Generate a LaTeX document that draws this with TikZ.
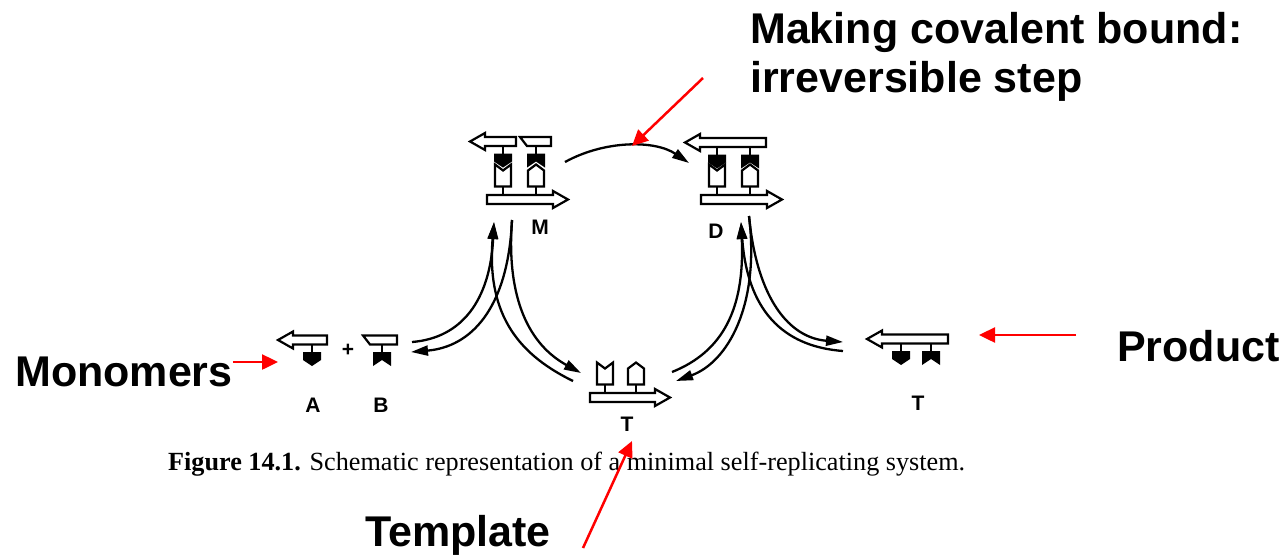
\documentclass[tikz,border=0pt]{standalone}
\usepackage{fontspec}
\setmainfont{Liberation Sans}
\newfontfamily\capfont{Liberation Serif}
\usetikzlibrary{arrows.meta}

\tikzset{
  strand/.style={draw=black,line width=2.2pt,fill=white},
  flow/.style={line width=2.3pt,-{Triangle[length=17pt,width=10pt]}},
  plain/.style={line width=2.2pt},
  redarrow/.style={red,line width=2.5pt,-{Triangle[length=16pt,width=15pt]}},
  lab/.style={font=\fontsize{21}{23}\selectfont\bfseries,inner sep=0pt},
  note/.style={font=\fontsize{43}{50}\selectfont\bfseries,anchor=base west,inner sep=0pt},
  % hollow arrow pointing left, tip at origin
  pics/backL/.style={code={
    \path[strand] (0,0) -- (15,-8.5) -- (15,-4.5) -- (#1,-4.5) -- (#1,4.5) -- (15,4.5) -- (15,8.5) -- cycle;}},
  % hollow arrow pointing right, tail at origin
  pics/backR/.style={code={
    \path[strand] (0,-4.5) -- ({#1-15},-4.5) -- ({#1-15},-8.5) -- (#1,0) -- ({#1-15},8.5) -- ({#1-15},4.5) -- (0,4.5) -- cycle;}},
  % slanted end piece of B
  pics/capB/.style={code={
    \path[strand] (0,-4.5) -- (#1,-4.5) -- (#1,4.5) -- (7,4.5) -- cycle;}},
  % black recognition sites hanging from a strand
  pics/knobA/.style={code={
    \draw[plain] (0,4) -- (0,12);
    \fill (-9,12) -- (9,12) -- (9,20) -- (0,26) -- (-9,20) -- cycle;}},
  pics/knobB/.style={code={
    \draw[plain] (0,4) -- (0,12);
    \fill (-9,12) -- (9,12) -- (9,26) -- (0,20) -- (-9,26) -- cycle;}},
  % white complementary sites standing on the template strand
  pics/sockA/.style={code={
    \draw[plain] (0,-4) -- (0,-13);
    \path[strand] (-8,-13) -- (8,-13) -- (8,-35) -- (0,-29) -- (-8,-35) -- cycle;}},
  pics/sockB/.style={code={
    \draw[plain] (0,-4) -- (0,-13);
    \path[strand] (-8,-13) -- (8,-13) -- (8,-29) -- (0,-35) -- (-8,-29) -- cycle;}},
}

\begin{document}
\begin{tikzpicture}[x=1pt,y=-1pt]
\useasboundingbox[fill=white] (0,0) rectangle (1284,555);

% monomers A + B
\pic at (278,340) {backL=49};
\pic at (312,340) {knobA};
\pic at (363,340) {capB=34};
\pic at (382,340) {knobB};
\node[lab] (plus) at (348,350) {+};
\node[lab] (A-lab) at (313,405) {A};
\node[lab] (B-lab) at (381,405) {B};

% termolecular complex M
\pic at (470,141.5) {backL=46};
\pic at (520,141.5) {capB=31};
\pic at (503,141.5) {knobA};
\pic at (536,141.5) {knobB};
\pic at (503,199.5) {sockA};
\pic at (536,199.5) {sockB};
\pic at (487,199.5) {backR=81};
\node[lab] (M-lab) at (540,227) {M};

% duplex D
\pic at (685,142.5) {backL=81};
\pic at (717,142.5) {knobA};
\pic at (750,142.5) {knobB};
\pic at (717,199.5) {sockA};
\pic at (750,199.5) {sockB};
\pic at (701,199.5) {backR=81};
\node[lab] (D-lab) at (716,231) {D};

% template T
\pic at (605,397.5) {sockA};
\pic at (636,397.5) {sockB};
\pic at (590,397.5) {backR=80};
\node[lab] (T-lab) at (627,424) {T};

% new copy T
\pic at (867,339) {backL=81};
\pic at (901,339) {knobA};
\pic at (931,339) {knobB};
\node[lab] (T2-lab) at (918,403) {T};

% ends of the reaction arrows
\coordinate (M-in) at (494,222);
\coordinate (M-out) at (512,220);
\coordinate (AB-up) at (412,342);
\coordinate (AB-back) at (411,352);
\coordinate (T-low) at (573,381);
\coordinate (T-back) at (581,373);
\coordinate (D-in) at (741,222);
\coordinate (D-out) at (749,216);
\coordinate (T-up) at (672,372);
\coordinate (T-fwd) at (676,381);
\coordinate (P-fwd) at (843,342);
\coordinate (P-low) at (843,351);
\coordinate (M-bond) at (565,162);
\coordinate (D-bond) at (689,163);

% A + B + T <=> M
\draw[flow] (AB-up) .. controls (462,338) and (490,300) .. (M-in);
\draw[flow] (T-low) .. controls (522,356) and (486,318) .. (M-in);
\draw[flow] (M-out) .. controls (508,310) and (470,347) .. (AB-back);
\draw[flow] (M-out) .. controls (506,300) and (530,345) .. (T-back);

% M -> D
\draw[flow] (M-bond) .. controls (605,140) and (655,140) .. (D-bond);

% D <=> T + T
\draw[flow] (T-up) .. controls (722,352) and (745,310) .. (D-in);
\draw[flow] (P-low) .. controls (790,347) and (748,318) .. (D-in);
\draw[flow] (D-out) .. controls (757,300) and (790,338) .. (P-fwd);
\draw[flow] (D-out) .. controls (760,305) and (728,362) .. (T-fwd);

\node[anchor=base west,inner sep=0pt,font=\capfont\fontsize{26.2}{30}\selectfont] (caption) at (168,470)
  {\textbf{Figure 14.1.} Schematic representation of a minimal self-replicating system.};

% annotations
\node[note] (bond1) at (750,43) {Making covalent bound:};
\node[note] (bond2) at (750,92) {irreversible step};
\node[note] (mono) at (15,386) {Monomers};
\node[note] (prod) at (1117,361) {Product};
\node[note] (templ) at (365,546) {Template};

\coordinate (bond-tail) at (703,78);
\coordinate (bond-tip) at (632,146);
\coordinate (mono-tip) at (278,362);
\coordinate (prod-tail) at (1076,335);
\coordinate (prod-tip) at (979,335);
\coordinate (templ-tail) at (583,548);
\coordinate (templ-tip) at (632,441);
\draw[redarrow] (bond-tail) -- (bond-tip);
\draw[redarrow] (mono-tip -| mono.east) -- (mono-tip);
\draw[redarrow] (prod-tail) -- (prod-tip);
\draw[redarrow] (templ-tail) -- (templ-tip);
\end{tikzpicture}
\end{document}
